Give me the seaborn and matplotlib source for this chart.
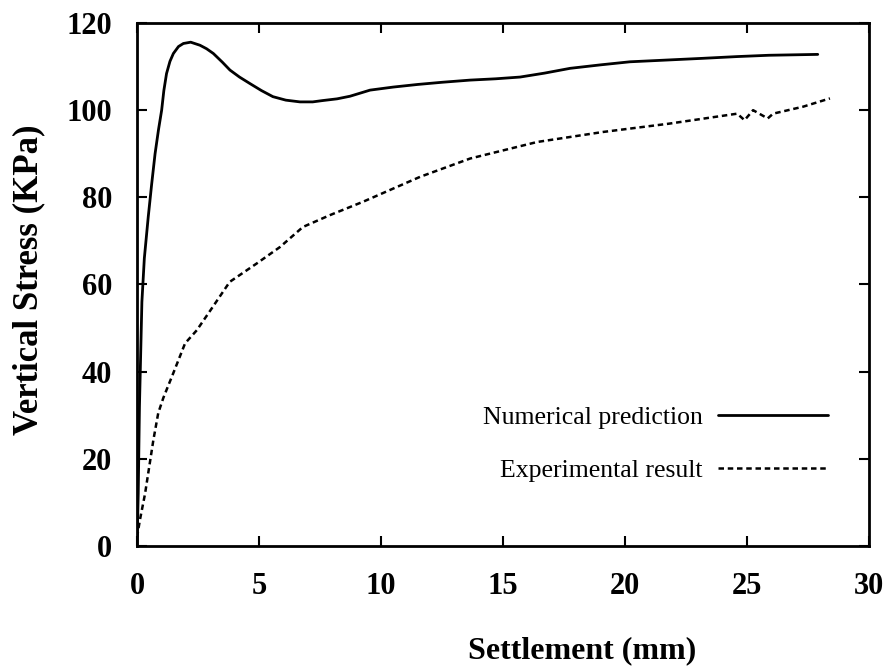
import numpy as np
import pandas as pd
import matplotlib
matplotlib.use("Agg")
import matplotlib.pyplot as plt
import seaborn as sns

# values
num_x = [0.0, 0.05, 0.1, 0.2, 0.3, 0.46, 0.6, 0.74, 0.88, 1.01, 1.1, 1.21,
         1.35, 1.49, 1.7, 1.9, 2.2, 2.58, 2.85, 3.13, 3.5, 3.81, 4.2, 4.63,
         5.1, 5.57, 6.1, 6.68, 7.2, 7.6, 8.2, 8.73, 9.2, 9.55, 10.5, 11.5,
         12.5, 13.65, 14.7, 15.7, 16.7, 17.75, 19.0, 20.2, 21.7, 23.2, 24.6,
         25.9, 27.9]
num_y = [0.0, 12, 32, 56, 66, 75.5, 83, 90, 95.5, 100, 104.5, 108.4,
         111.2, 113, 114.6, 115.3, 115.6, 114.9, 114.1, 113, 111, 109.2, 107.6, 106.1,
         104.5, 103.1, 102.3, 101.9, 101.9, 102.2, 102.6, 103.2, 104.0, 104.6, 105.3, 105.9,
         106.4, 106.9, 107.2, 107.6, 108.5, 109.6, 110.4, 111.1, 111.5, 111.9, 112.3,
         112.6, 112.8]

exp_x = [0.0, 0.12, 0.33, 0.67, 0.87, 1.08, 1.49, 1.97, 2.45, 3.0, 3.8, 4.9,
         5.86, 6.8, 7.9, 9.27, 11.6, 13.65, 16.4, 19.1, 21.8, 24.6, 24.9,
         25.25, 25.85, 26.07, 27.3, 28.4]
exp_y = [2, 6, 12, 24.3, 30.5, 34, 39.7, 46.5, 49.5, 54, 60.6, 64.8,
         68.6, 73.2, 75.9, 79, 84.7, 88.9, 92.7, 95, 96.9, 99.2, 97.7,
         100, 98.1, 99.2, 100.8, 102.7]

x_ticks = [0, 5, 10, 15, 20, 25, 30]
y_ticks = [0, 20, 40, 60, 80, 100, 120]

sns.set_theme(style="ticks")
plt.rcParams['font.family'] = ['Liberation Serif', 'DejaVu Serif']
plt.rcParams['text.color'] = 'black'
plt.rcParams['axes.labelcolor'] = 'black'

fig = plt.figure(figsize=(8.92, 6.69), dpi=100)
ax = fig.add_axes([0.1536, 0.1839, 0.8206, 0.7817])

df_num = pd.DataFrame({'x': num_x, 'y': num_y})
df_exp = pd.DataFrame({'x': exp_x, 'y': exp_y})

sns.lineplot(data=df_num, x='x', y='y', ax=ax, color='black', lw=2.0,
             sort=False, estimator=None, label='Numerical prediction')
sns.lineplot(data=df_exp, x='x', y='y', ax=ax, color='black', lw=1.8,
             sort=False, estimator=None, label='Experimental result')
ax.lines[1].set_dashes([2.2, 1.5])

ax.set_xlim(0, 30)
ax.set_ylim(0, 120)
ax.set_xticks(x_ticks)
ax.set_yticks(y_ticks)
ax.tick_params(direction='in', length=7, width=1.5, top=True, right=True,
               labelsize=22, colors='black')
ax.tick_params(axis='x', pad=19)
ax.tick_params(axis='y', pad=18)
for lab in ax.get_xticklabels() + ax.get_yticklabels():
    lab.set_fontweight('bold')
for sp in ax.spines.values():
    sp.set_linewidth(2.0)
    sp.set_color('black')

ax.set_xlabel('Settlement (mm)', fontsize=23, fontweight='bold')
ax.set_ylabel('Vertical Stress (KPa)', fontsize=25, fontweight='bold')
ax.xaxis.set_label_coords(0.608, -0.2)
ax.xaxis.label.set_va('center')
ax.yaxis.set_label_coords(-0.148, 0.51)
ax.yaxis.label.set_va('center')

leg = ax.legend(loc='lower right', bbox_to_anchor=(0.944, 0.122), frameon=False,
                markerfirst=False, fontsize=18.5, handlelength=4.3,
                handletextpad=0.58, labelspacing=1.16, borderpad=0,
                borderaxespad=0)
for t in leg.get_texts():
    t.set_color('black')

fig.savefig('out.png', dpi=100)
